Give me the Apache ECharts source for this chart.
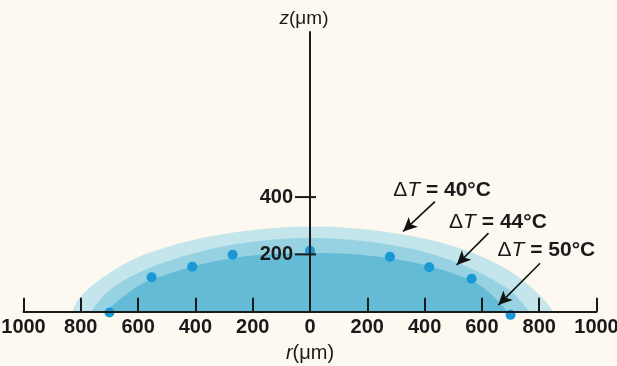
<!DOCTYPE html>
<html>
<head>
<meta charset="utf-8">
<script src="https://cdn.jsdelivr.net/npm/echarts@6/dist/echarts.min.js"></script>
<style>
  html, body { margin: 0; padding: 0; background: #fdf9f1; }
  #chart { width: 617px; height: 366px; }
</style>
</head>
<body>
<div id="chart"></div>
<script>
// Dome profiles [r (µm), z (µm)] for each temperature difference
const dome40 = [[-830,0],[-800,55],[-700,135],[-600,190],[-500,225],[-400,252],[-300,271],[-200,285],[-100,294],[0,297],[100,295],[200,287],[300,273],[400,255],[500,228],[600,192],[700,140],[800,60],[850,0]];
const dome44 = [[-765,0],[-700,75],[-600,135],[-500,175],[-400,205],[-300,228],[-200,244],[-100,254],[0,257],[100,254],[200,245],[300,230],[400,208],[500,176],[600,132],[700,72],[765,0]];
const dome50 = [[-715,0],[-600,90],[-500,130],[-400,160],[-300,182],[-200,196],[-100,203],[0,205],[100,203],[200,196],[300,183],[400,163],[500,133],[600,88],[690,0]];

// Measured points
const measured = [[-700,-3],[-553,120],[-411,157],[-270,199],[0,213],[279,192],[416,155],[564,115],[700,-11]];

// Axis ticks
const rTicks = [-1000,-800,-600,-400,-200,0,200,400,600,800,1000];
const zTicks = [200,400];

// Annotation labels and arrows
const annLabels = ['40', '44', '50'];
const annText = [[461,425],[656,314],[825,215]];
const annTail = [[436,384],[623,274],[803,169]];
const annTip = [[325,280],[512,163],[657,23]];

const FONT = 'Liberation Sans, Arial, sans-serif';
const INK = '#1a1a1a';
const FS = 20;
const AFS = 21;

const chart = echarts.init(document.getElementById('chart'));

function domeSeries(data, color) {
  return {
    type: 'line', data: data, smooth: 0.35,
    showSymbol: false, silent: true,
    lineStyle: { width: 0 }, areaStyle: { color: color, opacity: 1 }, z: 1
  };
}

chart.setOption({
  backgroundColor: '#fdf9f1',
  animation: false,
  grid: { left: 23.5, right: 20.5, top: 32, bottom: 54.3, containLabel: false, outerBoundsMode: 'none' },
  xAxis: {
    type: 'value', min: -1000, max: 1000, interval: 200, z: 10,
    axisLine: { onZero: true, lineStyle: { color: INK, width: 2 } },
    axisTick: { inside: true, length: 14, lineStyle: { color: INK, width: 2 }, customValues: rTicks },
    axisLabel: {
      margin: 6, color: INK, fontFamily: FONT, fontWeight: 'bold', fontSize: FS,
      customValues: rTicks, formatter: v => String(Math.abs(v))
    },
    splitLine: { show: false },
    name: '{i|r}(μm)', nameLocation: 'middle', nameGap: 32,
    nameTextStyle: {
      color: INK, fontFamily: FONT, fontSize: FS,
      rich: { i: { fontStyle: 'italic', fontFamily: FONT, fontSize: FS, color: INK } }
    }
  },
  yAxis: {
    type: 'value', min: 0, max: 976, interval: 200, z: 10,
    axisLine: { onZero: true, lineStyle: { color: INK, width: 2 } },
    axisTick: { show: false },
    axisLabel: { show: false },
    splitLine: { show: false },
    name: '{i|z}(μm)', nameLocation: 'end', nameGap: 4,
    nameTextStyle: {
      color: INK, fontFamily: FONT, fontSize: 19, align: 'center', padding: [0, 12, 0, 0],
      rich: { i: { fontStyle: 'italic', fontFamily: FONT, fontSize: 19, color: INK } }
    }
  },
  series: [
    domeSeries(dome40, '#c3e5eb'),
    domeSeries(dome44, '#96d2e1'),
    domeSeries(dome50, '#63bbd5'),
    {
      // tick marks crossing the z axis
      type: 'scatter', data: zTicks.map(v => [0, v]), symbol: 'rect',
      symbolSize: [21, 2], symbolOffset: [-4.5, 0], clip: false, z: 11, silent: true,
      itemStyle: { color: INK, opacity: 1 }
    },
    {
      // z axis tick labels
      type: 'scatter', data: zTicks.map(v => [0, v]), symbolSize: 0, clip: false, z: 11, silent: true,
      itemStyle: { opacity: 1 },
      label: {
        show: true, position: 'left', distance: 17, formatter: p => String(p.value[1]),
        color: INK, fontFamily: FONT, fontWeight: 'bold', fontSize: FS, textBorderWidth: 0
      }
    },
    {
      type: 'scatter', data: measured, symbolSize: 10, clip: false, z: 5,
      itemStyle: { color: '#1a98d5', opacity: 1 }
    },
    {
      type: 'scatter', data: annText.map((p, i) => ({ value: p, name: annLabels[i] })),
      symbolSize: 0, clip: false, z: 6, silent: true,
      itemStyle: { opacity: 1 },
      label: {
        show: true, position: 'inside', textBorderWidth: 0, color: INK,
        formatter: p => '{d|Δ}{t|T}{b| = ' + p.name + '°C}',
        rich: {
          d: { fontFamily: FONT, fontSize: AFS, color: INK, textBorderWidth: 0 },
          t: { fontFamily: FONT, fontSize: AFS, fontStyle: 'italic', color: INK, textBorderWidth: 0 },
          b: { fontFamily: FONT, fontSize: AFS, fontWeight: 'bold', color: INK, textBorderWidth: 0 }
        }
      },
      markLine: {
        silent: true, symbol: ['none', 'arrow'], symbolSize: [10, 14],
        lineStyle: { color: '#111', width: 1.6, type: 'solid', opacity: 1 },
        label: { show: false },
        data: annTail.map((t, i) => [{ coord: t }, { coord: annTip[i] }])
      }
    }
  ]
});
</script>
</body>
</html>
